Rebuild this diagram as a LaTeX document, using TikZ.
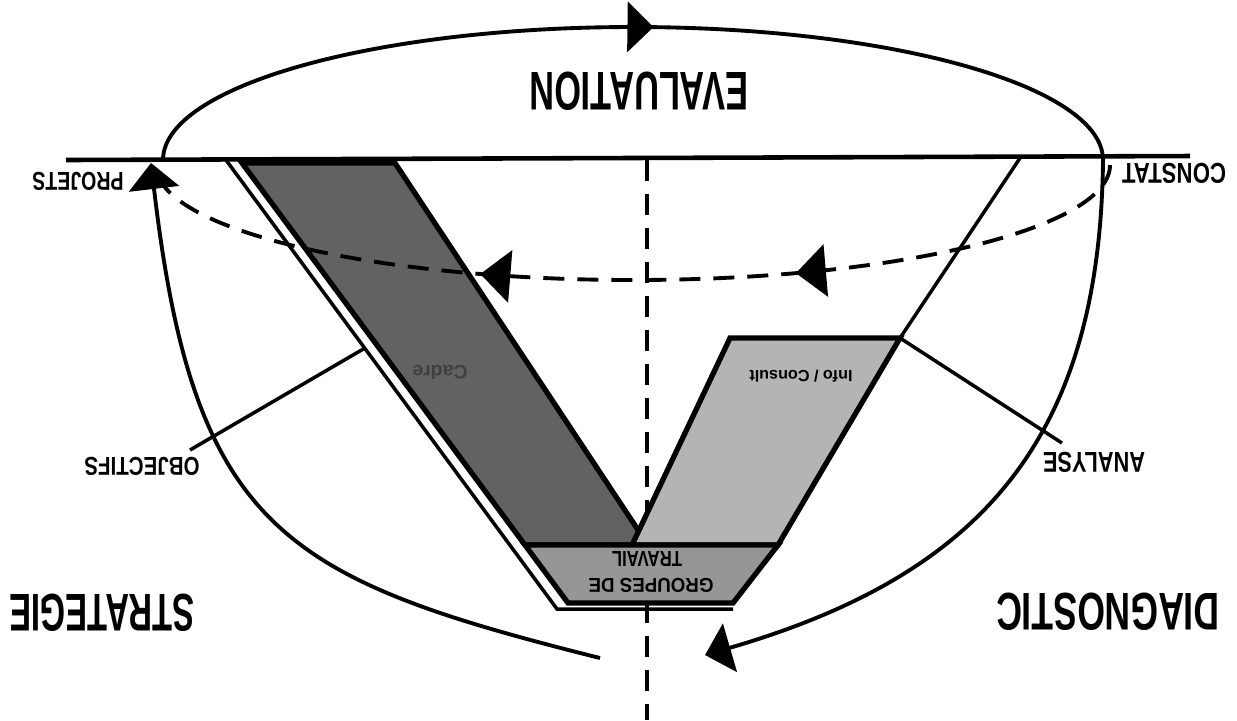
\documentclass[tikz,border=0pt]{standalone}
\usepackage{fontspec}
\setmainfont{Liberation Sans}
\usetikzlibrary{arrows.meta,decorations.markings}
\definecolor{VGdark}{RGB}{98,98,98}
\definecolor{VGmid}{RGB}{150,150,150}
\definecolor{VGlight}{RGB}{180,180,180}
\newcommand{\fitlbl}[3]{\resizebox{#1}{#2}{\bfseries #3}}
\tikzset{
  cycleline/.style={line width=1.1pt},
  dashline/.style={line width=1.1pt,dash pattern=on 2.1mm off 1.3mm},
  band/.style={draw=black,line width=1.5pt,line join=miter},
  lbl/.style={rotate=180,inner sep=0pt},
  bigtip/.style={-{Triangle[length=2.6mm,width=5mm]}},
  toptip/.style={decoration={markings,
      mark=at position 0.52 with {\arrow{Triangle[length=2.6mm,width=5mm]}}},
      postaction={decorate}},
  backtips/.style={decoration={markings,
      mark=at position 0.34 with {\arrow{Triangle[length=3mm,width=5.2mm]}},
      mark=at position 0.65 with {\arrow{Triangle[length=3mm,width=5.2mm]}}},
      postaction={decorate}}
}
\begin{document}
\begin{tikzpicture}[x=0.01cm,y=0.01cm]
  \useasboundingbox (0,0) rectangle (1237,-720);
  % axis behind the V
  \draw[dashline] (647,-160) -- (647,-720);
  % the V
  \draw[line width=1pt] (226,-160) -- (557,-609) -- (733,-609);
  \filldraw[band,fill=VGdark] (242,-163) -- (395,-163) -- (648,-545) -- (525,-545) -- cycle;
  \filldraw[band,fill=VGlight] (730,-338) -- (900,-338) -- (778,-545) -- (632,-545) -- cycle;
  \filldraw[band,fill=VGmid] (525,-545) -- (778,-545) -- (733,-603) -- (568,-603) -- cycle;
  \draw[line width=1pt] (1020,-158) -- (900,-338);
  \draw[line width=1.3pt] (66,-160) -- (1190,-156);
  % cycle
  \draw[cycleline,toptip] (163,-160) arc[start angle=180,end angle=0,x radius=470,y radius=133];
  \draw[cycleline,bigtip] (1103,-160) .. controls (1100,-440) and (980,-575) .. (705,-655);
  \draw[cycleline,bigtip] (600,-658) .. controls (285,-579) and (194,-531) .. (151,-163);
  \draw[dashline,backtips] (1110,-165) arc[start angle=0,end angle=-180,x radius=477,y radius=115];
  % labels
  \node[lbl] (evaluation) at (639,-91) {\fitlbl{21.8mm}{3.8mm}{EVALUATION}};
  \node[lbl] (projets) at (78,-181) {\fitlbl{9.1mm}{1.8mm}{PROJETS}};
  \node[lbl] (constat) at (1174,-173) {\fitlbl{10.4mm}{2mm}{CONSTAT}};
  \node[lbl] (objectifs) at (142,-466) {\fitlbl{11.5mm}{1.8mm}{OBJECTIFS}};
  \node[lbl] (analyse) at (1094,-462) {\fitlbl{10.2mm}{2mm}{ANALYSE}};
  \node[lbl] (strategie) at (102,-613) {\fitlbl{18.5mm}{3.7mm}{STRATEGIE}};
  \node[lbl] (diagnostic) at (1108,-612) {\fitlbl{22.3mm}{3.7mm}{DIAGNOSTIC}};
  \node[lbl] (groupes) at (651,-585) {\fitlbl{12.5mm}{1.4mm}{GROUPES DE}};
  \node[lbl] (travail) at (647,-559) {\fitlbl{7mm}{1.5mm}{TRAVAIL}};
  \node[lbl] (info) at (801,-376) {\resizebox{10.3mm}{!}{\bfseries Info / Consult}};
  \node[lbl,text=black!75] (cadre) at (440,-372) {\resizebox{5.5mm}{!}{\bfseries Cadre}};
  % leaders
  \coordinate (objend) at (190,-450);
  \coordinate (objband) at (365,-348);
  \coordinate (anaend) at (1062,-443);
  \coordinate (anaband) at (900,-338);
  \draw[line width=1pt] (objend) -- (objband);
  \draw[line width=1pt] (anaband) -- (anaend);
\end{tikzpicture}
\end{document}
